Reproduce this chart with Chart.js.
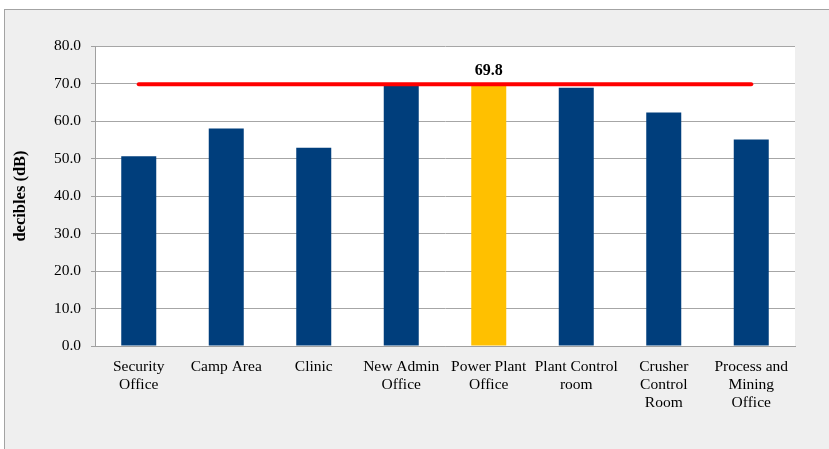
<!DOCTYPE html>
<html>
<head>
<meta charset="utf-8">
<script src="https://cdn.jsdelivr.net/npm/chart.js@4/dist/chart.umd.min.js"></script>
<style>
  html, body { margin: 0; padding: 0; background: #ffffff; overflow: hidden; }
  #frame { position: absolute; left: 4px; top: 9px; width: 840px; height: 460px;
           background: #efefef; border: 1px solid #a3a3a3; }
  #wrap { position: absolute; left: 0; top: 0; width: 829px; height: 449px; }
</style>
</head>
<body>
<div id="frame"></div>
<div id="wrap"><canvas id="c" width="829" height="449"></canvas></div>
<script>
const categories = [
  ["Security", "Office"], "Camp Area", "Clinic", ["New Admin", "Office"],
  ["Power Plant", "Office"], ["Plant Control", "room"], ["Crusher", "Control", "Room"],
  ["Process and", "Mining", "Office"]
];
const noiseLevels = [50.6, 58.0, 52.9, 69.4, 69.8, 68.9, 62.3, 55.1];
const limitLevel = [69.8, 69.8, 69.8, 69.8, 69.8, 69.8, 69.8, 69.8];
const highlightIndex = 4;
const yTicks = [0, 10, 20, 30, 40, 50, 60, 70, 80];

const BLUE = "#003e7c";
const GOLD = "#ffc000";
const SERIF = "'Liberation Serif', 'Times New Roman', serif";

const barColors = noiseLevels.map((v, i) => i === highlightIndex ? GOLD : BLUE);

// white plot background behind bars
const plotBg = {
  id: "plotBg",
  beforeDraw(chart) {
    const { ctx, chartArea: a } = chart;
    ctx.save();
    ctx.fillStyle = "#ffffff";
    ctx.fillRect(a.left, a.top, a.right - a.left, a.bottom - a.top);
    ctx.restore();
  }
};

// value label above the highlighted bar
const peakLabel = {
  id: "peakLabel",
  afterDatasetsDraw(chart) {
    const { ctx, scales } = chart;
    const v = noiseLevels[highlightIndex];
    const x = scales.x.getPixelForValue(highlightIndex);
    const y = scales.y.getPixelForValue(limitLevel[highlightIndex]);
    ctx.save();
    ctx.font = "bold 16px " + SERIF;
    ctx.fillStyle = "#000000";
    ctx.textAlign = "center";
    ctx.textBaseline = "alphabetic";
    ctx.fillText(v.toFixed(1), x, y - 9);
    ctx.restore();
  }
};

new Chart(document.getElementById("c"), {
  data: {
    labels: categories,
    datasets: [
      {
        type: "line",
        data: limitLevel,
        borderColor: "#ff0000",
        borderWidth: 4,
        pointRadius: 0,
        borderCapStyle: "round",
        fill: false,
        order: 0
      },
      {
        type: "bar",
        data: noiseLevels,
        backgroundColor: barColors,
        categoryPercentage: 1,
        barPercentage: 0.4,
        order: 1
      }
    ]
  },
  options: {
    responsive: false,
    animation: false,
    events: [],
    layout: { padding: { left: 0, top: 46, right: 34, bottom: 0 } },
    plugins: { legend: { display: false }, tooltip: { enabled: false } },
    scales: {
      x: {
        afterFit(s) { s.height = 103; },
        grid: { display: false, drawTicks: false },
        border: { color: "#a0a0a0", width: 1 },
        ticks: {
          maxRotation: 0, autoSkip: false, padding: 12,
          color: "#000000",
          font: { family: SERIF, size: 15.5, lineHeight: 1.17 }
        }
      },
      y: {
        min: 0, max: 80,
        afterFit(s) { s.width = 95; },
        afterBuildTicks(s) { s.ticks = yTicks.map(v => ({ value: v })); },
        grid: { color: "#a6a6a6", drawTicks: true, tickLength: 4, tickColor: "#a0a0a0", lineWidth: 1 },
        border: { color: "#a0a0a0", width: 1 },
        ticks: {
          padding: 10,
          color: "#000000",
          font: { family: SERIF, size: 15.5 },
          callback: v => Number(v).toFixed(1)
        },
        title: {
          display: true,
          text: "decibles (dB)",
          color: "#000000",
          padding: { top: 11, bottom: 0 },
          font: { family: SERIF, size: 16.5, weight: "bold" }
        }
      }
    }
  },
  plugins: [plotBg, peakLabel]
});
</script>
</body>
</html>
